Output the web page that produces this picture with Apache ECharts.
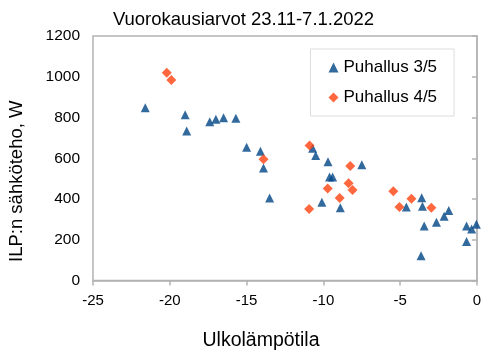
<!DOCTYPE html>
<html><head><meta charset="utf-8">
<script src="https://cdn.jsdelivr.net/npm/echarts@6/dist/echarts.min.js"></script>
<style>html,body{margin:0;padding:0;background:#fff}#c{width:487px;height:357px}</style>
</head><body><div id="c"></div>
<script>
var titleText = 'Vuorokausiarvot 23.11-7.1.2022';
var xName = 'Ulkolämpötila';
var yName = 'ILP:n sähköteho, W';
var seriesNames = ['Puhallus 3/5', 'Puhallus 4/5'];
var temp35 = [-21.6, -19.0, -18.9, -17.4, -17.0, -16.5, -15.7, -15.0, -14.1, -13.9, -13.5,
  -10.7, -10.5, -9.7, -7.5, -9.6, -9.4, -10.1, -8.9,
  -4.6, -3.6, -3.55, -1.84, -2.14, -2.64, -3.44, -3.64, -0.68, -0.35, -0.04, -0.68];
var power35 = [848, 814, 734, 779, 791, 799, 796, 654, 634, 552, 405,
  649, 613, 583, 568, 508, 508, 384, 357,
  361, 406, 364, 344, 315, 286, 267, 122, 267, 253, 276, 192];
var temp45 = [-20.2, -19.9, -13.9, -10.9, -8.25, -8.36, -8.1, -9.72, -8.94, -10.93,
  -5.45, -5.05, -4.27, -2.97];
var power45 = [1020, 984, 595, 662, 562, 477, 444, 452, 405, 351,
  438, 361, 401, 357];
var xTicks = {min: -25, max: 0, interval: 5};
var yTicks = {min: 0, max: 1200, interval: 200};

function pairs(xs, ys){ return xs.map(function(x,i){ return [x, ys[i]]; }); }
var font = 'Liberation Sans, Arial, sans-serif';
var axisGray = '#b3b3b3';
var chart = echarts.init(document.getElementById('c'), null, {renderer:'canvas'});
chart.setOption({
  animation: false,
  textStyle: {fontFamily: font},
  title: {text: titleText, left: 'center', top: 5,
    textStyle: {fontFamily: font, fontSize: 18.5, fontWeight: 'normal', color: '#000'}},
  grid: {left: 93, right: 10, top: 36, bottom: 76.5, show: true, borderColor: axisGray, borderWidth: 1.5},
  legend: {
    orient: 'vertical', left: 310.5, top: 49,
    padding: [10, 17, 10, 18], itemGap: 13,
    itemWidth: 10, itemHeight: 10,
    borderColor: '#dddddd', borderWidth: 1,
    textStyle: {fontFamily: font, fontSize: 17, color: '#000'},
    data: [{name: seriesNames[0], icon: 'triangle'}, {name: seriesNames[1], icon: 'diamond'}]
  },
  graphic: [
    {type: 'text', left: 262.5 - 60, top: 331,
     style: {text: xName, font: '19.5px Liberation Sans, Arial, sans-serif', fill: '#000'}},
    {type: 'text', x: 7, y: 262, rotation: Math.PI / 2,
     style: {text: yName, font: '18.5px Liberation Sans, Arial, sans-serif', fill: '#000'}}
  ],
  xAxis: {
    type: 'value', min: xTicks.min, max: xTicks.max, interval: xTicks.interval,
    axisLine: {onZero: false, lineStyle: {color: axisGray, width: 1.5}},
    axisTick: {show: true, length: 5, lineStyle: {color: axisGray, width: 1.5}},
    axisLabel: {fontFamily: font, fontSize: 15, color: '#000', margin: 13},
    splitLine: {show: false}
  },
  yAxis: {
    type: 'value', min: yTicks.min, max: yTicks.max, interval: yTicks.interval,
    axisLine: {show: true, lineStyle: {color: axisGray, width: 1.5}},
    axisTick: {show: true, length: 5, lineStyle: {color: axisGray, width: 1.5}},
    axisLabel: {fontFamily: font, fontSize: 15.5, color: '#000', margin: 13,
      formatter: function(v){ return String(v); }},
    splitLine: {show: false}
  },
  series: [
    {name: seriesNames[0], type: 'scatter', symbol: 'triangle', symbolSize: 9,
     itemStyle: {color: '#004586'}, data: pairs(temp35, power35)},
    {name: seriesNames[1], type: 'scatter', symbol: 'diamond', symbolSize: 10,
     itemStyle: {color: '#ff420e'}, data: pairs(temp45, power45)}
  ]
});
</script></body></html>
